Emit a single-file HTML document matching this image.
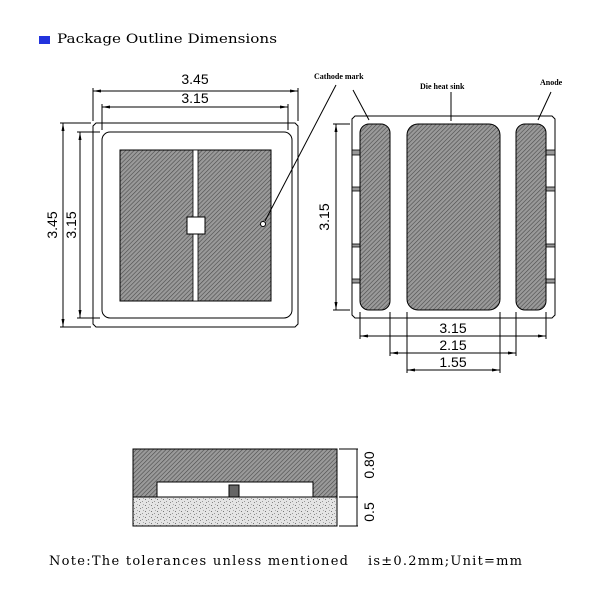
<!DOCTYPE html>
<html><head><meta charset="utf-8"><style>html,body{margin:0;padding:0;background:#fff}svg{display:block}</style></head>
<body>
<svg width="600" height="600" viewBox="0 0 600 600" xmlns="http://www.w3.org/2000/svg">
<defs>
<pattern id="h" width="3" height="3" patternUnits="userSpaceOnUse" patternTransform="rotate(45)">
<rect width="3" height="3" fill="#9a9a9a"/><line x1="0" y1="0" x2="0" y2="3" stroke="#4a4a4a" stroke-width="1.2"/>
</pattern>
<pattern id="s" width="6" height="6" patternUnits="userSpaceOnUse">
<rect width="6" height="6" fill="#e4e4e4"/><rect x="1" y="1" width="1" height="1" fill="#777"/><rect x="4" y="3" width="1" height="1" fill="#999"/><rect x="2" y="4" width="1" height="1" fill="#888"/><rect x="5" y="0" width="1" height="1" fill="#aaa"/>
</pattern>
<marker id="a" markerWidth="8" markerHeight="6" refX="8" refY="3" orient="auto-start-reverse" markerUnits="userSpaceOnUse"><path d="M0,1.5 L8,3 L0,4.5 z" fill="#000"/></marker>
</defs>
<g font-family="Liberation Sans, sans-serif">
<rect x="39" y="36" width="11" height="8" fill="#2233dd"/>
<text x="57" y="43" font-family="DejaVu Serif, serif" font-size="13" textLength="220" lengthAdjust="spacingAndGlyphs">Package Outline Dimensions</text>

<g stroke="#000" stroke-width="1" fill="none">
<path d="M96,123 H295 L298,126 V324 L295,327 H96 L93,324 V126 Z"/>
<rect x="102" y="132" width="190" height="186" rx="8"/>
<line x1="93" y1="121" x2="93" y2="88"/><line x1="298" y1="121" x2="298" y2="88"/>
<line x1="102" y1="130" x2="102" y2="104"/><line x1="288" y1="130" x2="288" y2="104"/>
<line x1="93" y1="91" x2="298" y2="91" marker-start="url(#a)" marker-end="url(#a)"/>
<line x1="102" y1="107" x2="288" y2="107" marker-start="url(#a)" marker-end="url(#a)"/>
<line x1="91" y1="123" x2="60" y2="123"/><line x1="91" y1="327" x2="60" y2="327"/>
<line x1="100" y1="132" x2="77" y2="132"/><line x1="100" y1="318" x2="77" y2="318"/>
<line x1="63" y1="123" x2="63" y2="327" marker-start="url(#a)" marker-end="url(#a)"/>
<line x1="80" y1="132" x2="80" y2="318" marker-start="url(#a)" marker-end="url(#a)"/>
</g>
<rect x="120" y="150" width="151" height="151" fill="url(#h)" stroke="#000"/>
<rect x="193" y="150" width="5" height="151" fill="#fff" stroke="#000" stroke-width="0.8"/>
<rect x="187" y="217" width="18" height="17" fill="#fff" stroke="#000"/>
<circle cx="263" cy="224" r="2.5" fill="#fff" stroke="#000"/>
<line x1="265" y1="221" x2="336" y2="85" stroke="#000"/>
<text x="195" y="84" font-size="14" text-anchor="middle">3.45</text>
<text x="195" y="103" font-size="14" text-anchor="middle">3.15</text>
<text transform="translate(57,225) rotate(-90)" font-size="14" text-anchor="middle">3.45</text>
<text transform="translate(76,225) rotate(-90)" font-size="14" text-anchor="middle">3.15</text>

<g stroke="#000" stroke-width="1" fill="none">
<path d="M355,116 H552 L555,119 V315 L552,318 H355 L352,315 V119 Z"/>
<line x1="350" y1="124" x2="333" y2="124"/><line x1="350" y1="310" x2="333" y2="310"/>
<line x1="336" y1="124" x2="336" y2="310" marker-start="url(#a)" marker-end="url(#a)"/>
<line x1="360" y1="312" x2="360" y2="339"/><line x1="546" y1="312" x2="546" y2="339"/>
<line x1="390" y1="312" x2="390" y2="356"/><line x1="516" y1="312" x2="516" y2="356"/>
<line x1="407" y1="312" x2="407" y2="373"/><line x1="500" y1="312" x2="500" y2="373"/>
<line x1="360" y1="336" x2="546" y2="336" marker-start="url(#a)" marker-end="url(#a)"/>
<line x1="390" y1="353" x2="516" y2="353" marker-start="url(#a)" marker-end="url(#a)"/>
<line x1="407" y1="370" x2="500" y2="370" marker-start="url(#a)" marker-end="url(#a)"/>
<line x1="353" y1="90" x2="369" y2="120"/>
<line x1="451" y1="92" x2="451" y2="121"/>
<line x1="551" y1="92" x2="538" y2="120"/>
</g>
<g fill="#999" stroke="#000" stroke-width="0.8"><rect x="352" y="150" width="8" height="5"/><rect x="352" y="187" width="8" height="4"/><rect x="352" y="244" width="8" height="3"/><rect x="352" y="279" width="8" height="4"/>
<rect x="546" y="150" width="9" height="5"/><rect x="546" y="187" width="9" height="4"/><rect x="546" y="244" width="9" height="3"/><rect x="546" y="279" width="9" height="4"/></g>
<rect x="360" y="124" width="30" height="186" rx="9" fill="url(#h)" stroke="#000"/>
<rect x="407" y="124" width="93" height="186" rx="11" fill="url(#h)" stroke="#000"/>
<rect x="516" y="124" width="30" height="186" rx="9" fill="url(#h)" stroke="#000"/>
<g font-family="Liberation Serif, serif" font-weight="bold" font-size="8">
<text x="314" y="79">Cathode mark</text>
<text x="420" y="89">Die heat sink</text>
<text x="540" y="85">Anode</text>
</g>
<text transform="translate(329,217) rotate(-90)" font-size="14" text-anchor="middle">3.15</text>
<text x="453" y="333" font-size="14" text-anchor="middle">3.15</text>
<text x="453" y="350" font-size="14" text-anchor="middle">2.15</text>
<text x="453" y="367" font-size="14" text-anchor="middle">1.55</text>

<rect x="133" y="449" width="204" height="48" fill="url(#h)" stroke="#000"/>
<rect x="133" y="497" width="204" height="29" fill="url(#s)" stroke="#000"/>
<rect x="157" y="482" width="156" height="15" fill="#fff" stroke="#000"/>
<rect x="229" y="485" width="10" height="12" fill="#666" stroke="#000"/>
<g stroke="#000"><line x1="339" y1="449" x2="358" y2="449"/><line x1="339" y1="497" x2="358" y2="497"/><line x1="339" y1="526" x2="358" y2="526"/><line x1="357" y1="449" x2="357" y2="526"/></g>
<text transform="translate(374,465) rotate(-90)" font-size="14" text-anchor="middle">0.80</text>
<text transform="translate(374,512) rotate(-90)" font-size="14" text-anchor="middle">0.5</text>

<text x="49" y="565" font-family="DejaVu Serif, serif" font-size="13" textLength="299" lengthAdjust="spacing">Note:The tolerances unless mentioned</text>
<text x="368" y="565" font-family="DejaVu Serif, serif" font-size="13" textLength="154" lengthAdjust="spacing">is±0.2mm;Unit=mm</text>
</g>
</svg>
</body></html>
